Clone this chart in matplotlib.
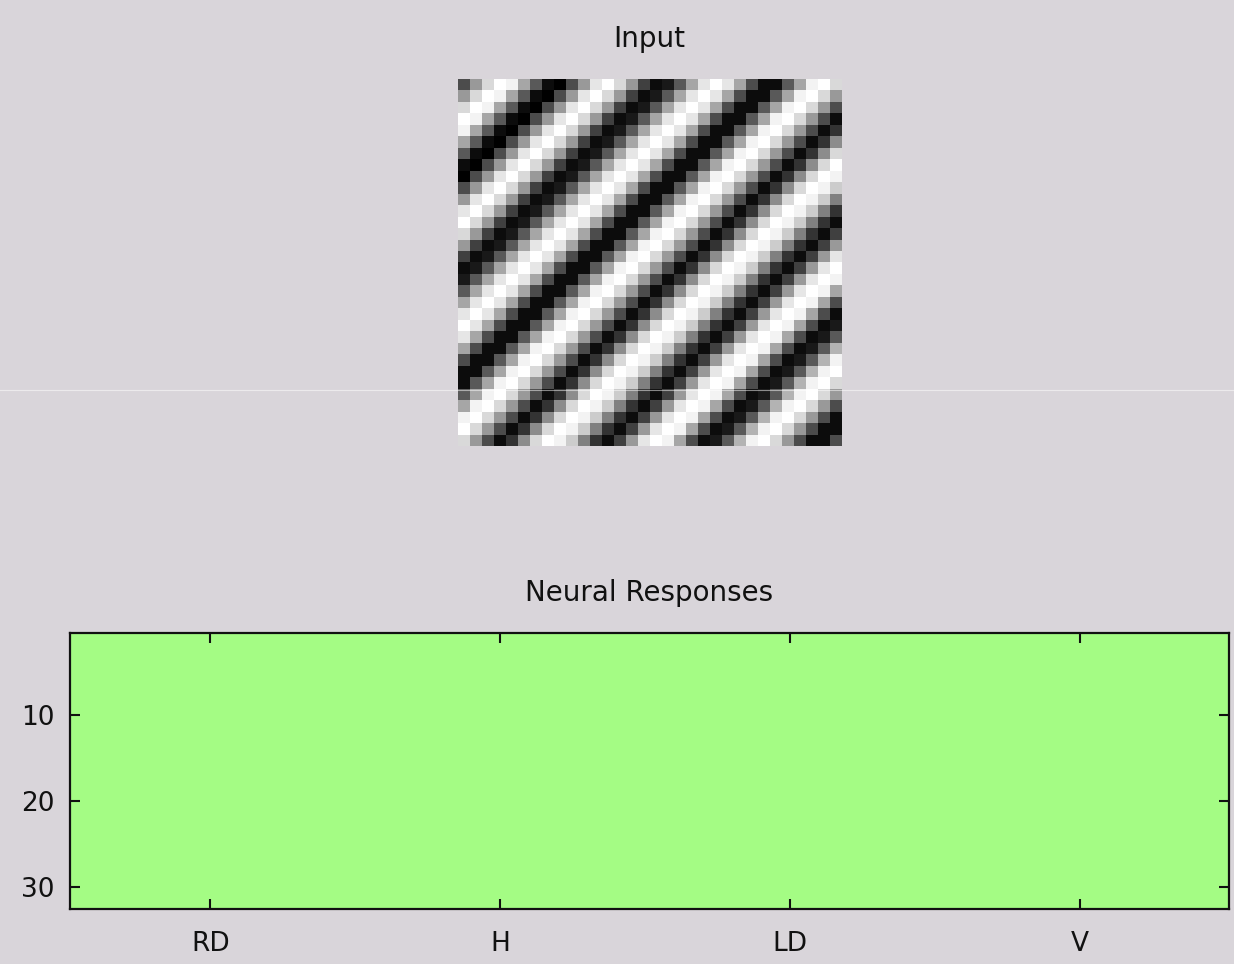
import numpy as np
import matplotlib.pyplot as plt
from matplotlib.colors import ListedColormap
from matplotlib.lines import Line2D

# Input grating: intensity along each anti-diagonal (row + col), 0 = black, 1 = white
grating_profile = [
    0.30, 0.60, 0.85, 1.00, 0.95, 0.65, 0.35, 0.05, 0.00, 0.30,
    0.60, 0.90, 1.00, 0.85, 0.60, 0.25, 0.05, 0.10, 0.35, 0.65,
    0.90, 1.00, 0.90, 0.65, 0.30, 0.05, 0.05, 0.35, 0.65, 0.95,
    1.00, 0.85, 0.60, 0.30, 0.05, 0.20, 0.55, 0.85, 1.00, 0.95,
    0.80, 0.50, 0.20, 0.05, 0.25, 0.60, 0.90, 1.00, 0.95, 0.65,
    0.30, 0.05, 0.10, 0.35, 0.70, 0.95, 1.00, 0.85, 0.60, 0.30,
    0.05, 0.05, 0.30,
]
grating_size = 32

# Neural responses: 32 neurons x 128 columns (4 orientation blocks of 32)
n_neurons = 32
n_columns = 128
response_level = 0.5
orientation_labels = ["RD", "H", "LD", "V"]
orientation_ticks = [16, 48, 80, 112]
neuron_ticks = [10, 20, 30]

bg = "#d9d5da"
green = "#a4fc84"

idx = np.add.outer(np.arange(grating_size), np.arange(grating_size))
grating = np.asarray(grating_profile)[idx]
responses = np.full((n_neurons, n_columns), response_level)

plt.rcParams["font.family"] = ["DejaVu Sans"]
fig = plt.figure(figsize=(12.34, 9.64), dpi=100, facecolor=bg)

# --- input image ---
ax_in = fig.add_axes([458 / 1234, 1 - 446 / 964, 383 / 1234, 367 / 964])
ax_in.imshow(grating, cmap="gray", vmin=0, vmax=1, interpolation="nearest",
             aspect="auto", extent=(0.5, grating_size + 0.5, grating_size + 0.5, 0.5))
ax_in.set_axis_off()
ax_in.set_title("Input", fontsize=20, pad=23, color="#111111")

# --- neural responses ---
ax_r = fig.add_axes([70 / 1234, 1 - 909 / 964, 1159 / 1234, 276 / 964])
ax_r.imshow(responses, cmap=ListedColormap([green]), vmin=0, vmax=1,
            interpolation="nearest", aspect="auto",
            extent=(0.5, n_columns + 0.5, n_neurons + 0.5, 0.5))
ax_r.set_xticks(orientation_ticks)
ax_r.set_xticklabels(orientation_labels)
ax_r.set_yticks(neuron_ticks)
ax_r.tick_params(direction="in", length=7, width=1.5, labelsize=19,
                 top=True, right=True, colors="#111111")
ax_r.tick_params(axis="x", pad=16)
ax_r.tick_params(axis="y", pad=11)
for s in ax_r.spines.values():
    s.set_linewidth(1.6)
    s.set_color("#111111")
ax_r.set_title("Neural Responses", fontsize=20, pad=23, color="#111111")

# faint horizontal scan line across the window
fig.add_artist(Line2D([0, 1], [1 - 389.5 / 964] * 2, transform=fig.transFigure,
                      color="white", lw=0.8, alpha=0.5))

fig.savefig("out.png", dpi=100, facecolor=bg)
